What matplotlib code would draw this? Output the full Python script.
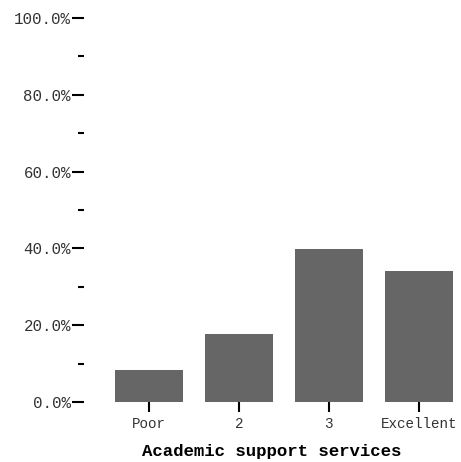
import matplotlib
matplotlib.use("Agg")
import matplotlib.pyplot as plt
from matplotlib.ticker import MultipleLocator, FuncFormatter

# ratings and share of responses (%)
categories = ["Poor", "2", "3", "Excellent"]
shares = [8.3, 17.7, 39.8, 34.1]

plt.rcParams['font.family'] = ['Liberation Mono', 'DejaVu Sans Mono']

fig = plt.figure(figsize=(4.61, 4.62), dpi=100)
ax = fig.add_axes([0.1822, 0.1299, 0.8141, 0.8311])

x = range(len(categories))
ax.bar(x, shares, width=0.755, color="#666666")

ax.set_xlim(-0.72, 3.45)
ax.set_ylim(0, 100)
for s in ax.spines.values():
    s.set_visible(False)

ax.set_xticks(list(x))
ax.set_xticklabels(categories, fontsize=10.3, color="#333333")
ax.yaxis.set_major_locator(MultipleLocator(20))
ax.yaxis.set_minor_locator(MultipleLocator(10))
ax.yaxis.set_major_formatter(FuncFormatter(lambda v, p: "%.1f%%" % v))
# tick sizes in points (px * 0.72)
ax.tick_params(axis="y", which="major", length=8.6, width=1.5, pad=0.8,
               labelsize=11.3, labelcolor="#333333")
ax.tick_params(axis="y", which="minor", length=4.3, width=1.5)
ax.tick_params(axis="x", length=7.4, width=1.5, pad=3.5)

ax.set_xlabel("Academic support services", fontsize=12.5, fontweight="bold",
              labelpad=9.5)

fig.savefig("out.png", dpi=100)
